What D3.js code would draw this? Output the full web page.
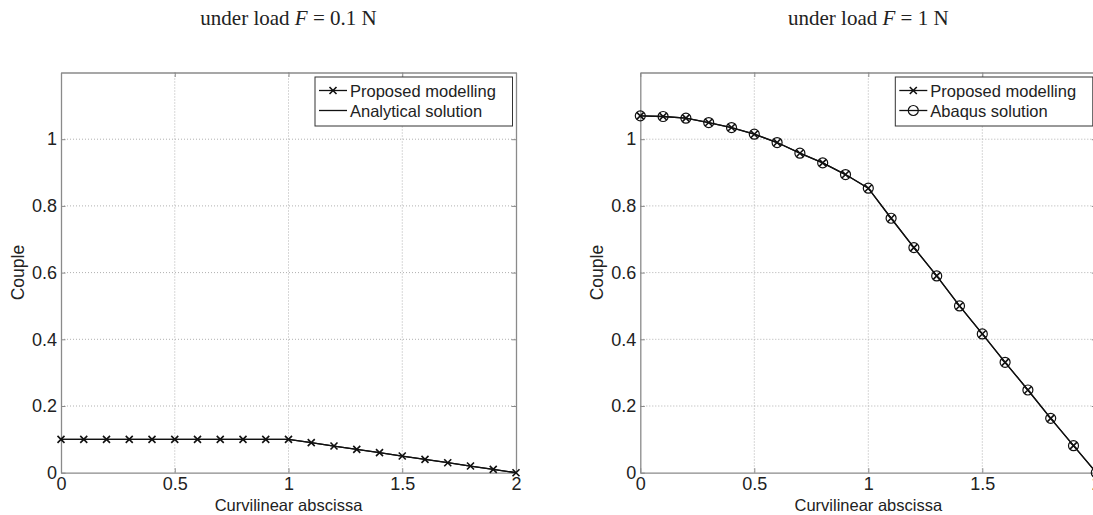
<!DOCTYPE html>
<html>
<head>
<meta charset="utf-8">
<script src="https://cdn.jsdelivr.net/npm/d3@7"></script>
<style>
  html, body { margin: 0; padding: 0; background: #fff; overflow: hidden; }
  svg { display: block; }
  text { font-family: "Liberation Sans", Arial, sans-serif; fill: #222; }
  .title { font-family: "Liberation Serif", "Times New Roman", serif; }
</style>
</head>
<body>
<svg id="chart" width="1093" height="515"></svg>
<script>
// ---------- data ----------
const abscissa = [0, 0.1, 0.2, 0.3, 0.4, 0.5, 0.6, 0.7, 0.8, 0.9, 1.0,
                  1.1, 1.2, 1.3, 1.4, 1.5, 1.6, 1.7, 1.8, 1.9, 2.0];
const leftProposed   = [0.1, 0.1, 0.1, 0.1, 0.1, 0.1, 0.1, 0.1, 0.1, 0.1, 0.1,
                        0.09, 0.08, 0.07, 0.06, 0.05, 0.04, 0.03, 0.02, 0.01, 0.0];
const leftAnalytical = [0.1, 0.1, 0.1, 0.1, 0.1, 0.1, 0.1, 0.1, 0.1, 0.1, 0.1,
                        0.09, 0.08, 0.07, 0.06, 0.05, 0.04, 0.03, 0.02, 0.01, 0.0];
const rightProposed  = [1.07, 1.068, 1.063, 1.05, 1.035, 1.015, 0.99, 0.958, 0.929, 0.894, 0.853,
                        0.763, 0.675, 0.59, 0.5, 0.416, 0.331, 0.248, 0.163, 0.081, 0.0];
const rightAbaqus    = [1.07, 1.068, 1.063, 1.05, 1.035, 1.015, 0.99, 0.958, 0.929, 0.894, 0.853,
                        0.763, 0.675, 0.59, 0.5, 0.416, 0.331, 0.248, 0.163, 0.081, 0.0];
const xTicks = [0, 0.5, 1, 1.5, 2];
const yTicks = [0, 0.2, 0.4, 0.6, 0.8, 1];
const xTickLabels = ["0", "0.5", "1", "1.5", "2"];
const yTickLabels = ["0", "0.2", "0.4", "0.6", "0.8", "1"];
const leftTitle = ["under load ", "F", " = 0.1 N"];
const rightTitle = ["under load ", "F", " = 1 N"];
const xLabel = "Curvilinear abscissa";
const yLabel = "Couple";
const leftLegend = ["Proposed modelling", "Analytical solution"];
const rightLegend = ["Proposed modelling", "Abaqus solution"];

// ---------- drawing ----------
const svg = d3.select("#chart");
const plotTop = 72.5, plotBottom = 472.7;

function xMarker(g, cx, cy, s) {
  g.append("path")
    .attr("d", `M${cx - s},${cy - s}L${cx + s},${cy + s}M${cx - s},${cy + s}L${cx + s},${cy - s}`)
    .attr("stroke", "#111").attr("stroke-width", 1.6).attr("fill", "none");
}
function oMarker(g, cx, cy, r) {
  g.append("circle").attr("cx", cx).attr("cy", cy).attr("r", r)
    .attr("stroke", "#111").attr("stroke-width", 1.2).attr("fill", "none");
}

function panel(opts) {
  const x = d3.scaleLinear().domain([0, 2]).range([opts.left, opts.right]);
  const y = d3.scaleLinear().domain([0, 1.2]).range([plotBottom, plotTop]);
  const g = svg.append("g");

  // grid
  g.append("g").selectAll("line").data(xTicks.filter(d => d > 0 && d < 2)).join("line")
    .attr("x1", d => x(d)).attr("x2", d => x(d)).attr("y1", plotTop).attr("y2", plotBottom)
    .attr("stroke", "#b0b0b0").attr("stroke-width", 1).attr("stroke-dasharray", "1,2");
  g.append("g").selectAll("line").data(yTicks.filter(d => d > 0)).join("line")
    .attr("x1", opts.left).attr("x2", opts.right).attr("y1", d => y(d)).attr("y2", d => y(d))
    .attr("stroke", "#b0b0b0").attr("stroke-width", 1).attr("stroke-dasharray", "1,2");

  // axes via d3 axis
  const tl = 4.5;
  const axB = g.append("g").attr("transform", `translate(0,${plotBottom})`)
    .call(d3.axisBottom(x).tickValues(xTicks).tickFormat((d, i) => xTickLabels[i]).tickSizeInner(-tl).tickSizeOuter(0).tickPadding(5));
  const axL = g.append("g").attr("transform", `translate(${opts.left},0)`)
    .call(d3.axisLeft(y).tickValues(yTicks).tickFormat((d, i) => yTickLabels[i]).tickSizeInner(-tl).tickSizeOuter(0).tickPadding(4));
  const axT = g.append("g").attr("transform", `translate(0,${plotTop})`)
    .call(d3.axisTop(x).tickValues(xTicks).tickFormat("").tickSizeInner(-tl).tickSizeOuter(0));
  const axR = g.append("g").attr("transform", `translate(${opts.right},0)`)
    .call(d3.axisRight(y).tickValues(yTicks).tickFormat("").tickSizeInner(-tl).tickSizeOuter(0));
  [axB, axL, axT, axR].forEach(a => {
    a.select(".domain").attr("stroke", "#8a8a8a").attr("stroke-width", 1.3);
    a.selectAll(".tick line").attr("stroke", "#8a8a8a");
    a.selectAll("text").attr("font-size", 18).attr("fill", "#222")
      .attr("font-family", '"Liberation Sans", Arial, sans-serif');
  });

  // labels
  g.append("text").attr("x", (opts.left + opts.right) / 2).attr("y", 511)
    .attr("text-anchor", "middle").attr("font-size", 16.5).text(xLabel);
  g.append("text").attr("transform", `translate(${opts.left - 37},${(plotTop + plotBottom) / 2}) rotate(-90)`)
    .attr("text-anchor", "middle").attr("font-size", 17.5).text(yLabel);
  const t = g.append("text").attr("class", "title").attr("x", (opts.left + opts.right) / 2).attr("y", 25)
    .attr("text-anchor", "middle").attr("font-size", 21).attr("fill", "#111");
  opts.title.forEach((s, i) => {
    t.append("tspan").text(s).attr("font-style", i === 1 ? "italic" : "normal");
  });

  // series
  const line = d3.line().x((d, i) => x(abscissa[i])).y(d => y(d));
  const s2 = g.append("g");
  s2.append("path").datum(opts.second).attr("d", line)
    .attr("fill", "none").attr("stroke", "#111").attr("stroke-width", 1.3);
  if (opts.secondMarker === "o") {
    opts.second.forEach((v, i) => oMarker(s2, x(abscissa[i]), y(v), 5));
  }
  const s1 = g.append("g");
  s1.append("path").datum(opts.first).attr("d", line)
    .attr("fill", "none").attr("stroke", "#111").attr("stroke-width", 1.3);
  opts.first.forEach((v, i) => xMarker(s1, x(abscissa[i]), y(v), 3.5));

  // legend
  const lx = opts.right - 201, ly = 77, lw = 197.5, lh = 49;
  const lg = g.append("g");
  lg.append("rect").attr("x", lx).attr("y", ly).attr("width", lw).attr("height", lh)
    .attr("fill", "#fff").attr("stroke", "#333").attr("stroke-width", 1);
  [0, 1].forEach(k => {
    const cy = ly + 13.5 + k * 20;
    lg.append("line").attr("x1", lx + 4).attr("x2", lx + 32).attr("y1", cy).attr("y2", cy)
      .attr("stroke", "#111").attr("stroke-width", 1.3);
    if (k === 0) xMarker(lg, lx + 18, cy, 3.5);
    if (k === 1 && opts.secondMarker === "o") oMarker(lg, lx + 18, cy, 5);
    lg.append("text").attr("x", lx + 35).attr("y", cy + 6).attr("font-size", 16.5).text(opts.legend[k]);
  });
}

panel({ left: 61, right: 516, title: leftTitle, first: leftProposed, second: leftAnalytical,
        secondMarker: null, legend: leftLegend });
panel({ left: 640.3, right: 1096.3, title: rightTitle, first: rightProposed, second: rightAbaqus,
        secondMarker: "o", legend: rightLegend });
</script>
</body>
</html>
